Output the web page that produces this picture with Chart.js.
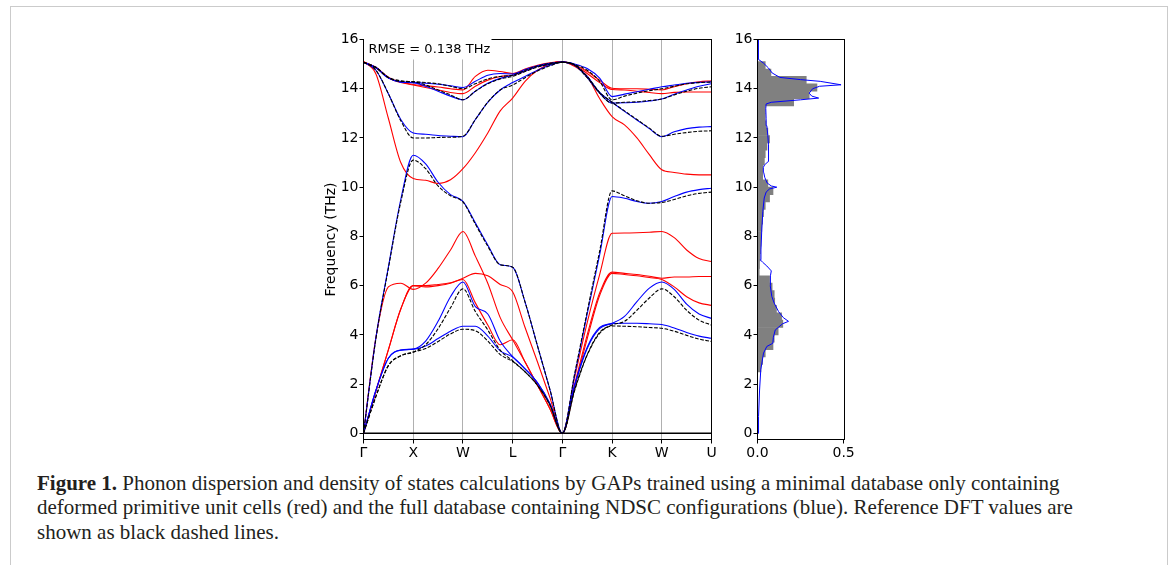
<!DOCTYPE html>
<html>
<head>
<meta charset="utf-8">
<script src="https://cdn.jsdelivr.net/npm/chart.js@4.4.1/dist/chart.umd.min.js"></script>
<style>
  html, body { margin: 0; padding: 0; background: #fff; width: 1170px; height: 565px; overflow: hidden; }
  #frame { position: absolute; left: 10px; top: 6px; width: 1158px; height: 640px; box-sizing: border-box; border: 1.5px solid #cbcbcb; }
  #band { position: absolute; left: 300px; top: 25px; }
  #dos { position: absolute; left: 690px; top: 25px; }
  #caption { position: absolute; left: 37px; top: 470.5px; font: 21px/24.5px 'Liberation Serif', 'Times New Roman', serif; color: #231f20; white-space: nowrap; }
</style>
</head>
<body>
<div id="frame"></div>
<canvas id="band" width="420" height="445"></canvas>
<canvas id="dos" width="180" height="445"></canvas>
<div id="caption"><b>Figure 1.</b> Phonon dispersion and density of states calculations by GAPs trained using a minimal database only containing<br>deformed primitive unit cells (red) and the full database containing NDSC configurations (blue). Reference DFT values are<br>shown as black dashed lines.</div>
<script>
// path coordinate (one unit per high-symmetry segment)
const qPath = [0, 0.25, 0.5, 0.75, 1, 1.25, 1.5, 1.75, 2, 2.25, 2.5, 2.75, 3, 3.25, 3.5, 3.75, 4,
               4.25, 4.5, 4.75, 5, 5.25, 5.5, 5.75, 6, 6.25, 6.5, 6.75, 7];
const kPos = [0, 1, 2, 3, 4, 5, 6, 7];
const kLabels = ['Γ', 'X', 'W', 'L', 'Γ', 'K', 'W', 'U'];
const freqTicks = [0, 2, 4, 6, 8, 10, 12, 14, 16];
const dosTicks = [0, 0.5];

// reference DFT bands (THz)
const dft1 = [0, 1.5, 2.75, 3.15, 3.3, 3.45, 3.73, 4.04, 4.23, 4.17, 3.75, 3.2, 2.92, 2.5, 1.95, 1.15, 0,
              1.76, 3.18, 4.06, 4.36, 4.35, 4.33, 4.3, 4.27, 4.15, 3.98, 3.83, 3.73];
const dft2 = [0, 1.5, 2.75, 3.15, 3.3, 3.6, 4.25, 5.1, 5.87, 4.95, 4.2, 3.38, 2.95, 2.5, 1.95, 1.15, 0,
              1.8, 3.2, 4.1, 4.4, 4.55, 5.0, 5.5, 5.87, 5.55, 5.0, 4.6, 4.4];
const dft3 = [0, 3.85, 6.7, 9.4, 11.1, 10.75, 10.05, 9.65, 9.4, 8.5, 7.6, 6.85, 6.75, 5.33, 3.55, 1.78, 0,
              2.45, 4.95, 7.4, 9.85, 9.65, 9.45, 9.35, 9.38, 9.5, 9.65, 9.75, 9.8];
const dft4 = [15.08, 14.75, 13.8, 12.7, 12.0, 12.0, 12.02, 12.03, 12.07, 12.75, 13.45, 13.95, 14.15, 14.45, 14.72, 14.93, 15.08,
              14.97, 14.5, 13.85, 13.45, 13.1, 12.75, 12.4, 12.07, 12.15, 12.22, 12.27, 12.29];
const dft5 = [15.08, 14.85, 14.45, 14.3, 14.28, 14.15, 13.95, 13.75, 13.55, 13.9, 14.2, 14.4, 14.5, 14.7, 14.88, 15.0, 15.08,
              14.95, 14.45, 13.82, 13.42, 13.45, 13.47, 13.52, 13.58, 13.75, 13.9, 14.02, 14.08];
const dft6 = [15.08, 14.87, 14.47, 14.32, 14.29, 14.25, 14.2, 14.1, 14.0, 14.2, 14.4, 14.5, 14.55, 14.75, 14.92, 15.03, 15.08,
              14.98, 14.75, 14.3, 13.55, 13.7, 13.82, 13.92, 14.0, 14.1, 14.2, 14.25, 14.27];

// GAP, full database (blue)
const full1 = [0, 1.75, 3.05, 3.38, 3.42, 3.55, 3.85, 4.15, 4.35, 4.35, 3.95, 3.35, 3.1, 2.62, 2.05, 1.2, 0,
               1.95, 3.45, 4.25, 4.45, 4.47, 4.47, 4.45, 4.42, 4.28, 4.1, 3.95, 3.86];
const full2 = [0, 1.75, 3.05, 3.38, 3.42, 3.75, 4.55, 5.55, 6.15, 5.15, 4.85, 3.75, 3.12, 2.62, 2.05, 1.2, 0,
               2.0, 3.5, 4.3, 4.47, 4.75, 5.35, 5.9, 6.15, 5.85, 5.25, 4.85, 4.67];
const full3 = [0, 3.9, 6.75, 9.5, 11.3, 10.95, 10.2, 9.7, 9.42, 8.55, 7.65, 6.85, 6.75, 5.33, 3.55, 1.78, 0,
               2.4, 4.85, 7.25, 9.62, 9.55, 9.42, 9.35, 9.42, 9.62, 9.8, 9.9, 9.96];
const full4 = [15.08, 14.75, 13.8, 12.75, 12.2, 12.15, 12.1, 12.07, 12.05, 12.75, 13.45, 13.95, 14.25, 14.5, 14.75, 14.95, 15.08,
               14.97, 14.5, 13.85, 13.45, 13.08, 12.73, 12.38, 12.05, 12.25, 12.38, 12.44, 12.46];
const full5 = [15.08, 14.85, 14.43, 14.27, 14.25, 14.1, 13.9, 13.7, 13.55, 13.9, 14.22, 14.42, 14.55, 14.72, 14.9, 15.0, 15.08,
               14.95, 14.45, 13.82, 13.42, 13.43, 13.45, 13.5, 13.58, 13.78, 13.95, 14.1, 14.2];
const full6 = [15.08, 14.87, 14.45, 14.28, 14.25, 14.22, 14.18, 14.12, 14.05, 14.3, 14.55, 14.62, 14.6, 14.78, 14.93, 15.03, 15.08,
               15.0, 14.82, 14.43, 13.68, 13.78, 13.88, 13.98, 14.08, 14.15, 14.22, 14.26, 14.28];

// GAP, minimal database (red)
const mini1 = [0, 1.72, 3.39, 5.05, 6.0, 6.0, 6.05, 6.12, 6.25, 5.3, 4.4, 3.6, 3.8, 2.9, 1.95, 1.0, 0,
               1.9, 3.85, 5.6, 6.5, 6.45, 6.4, 6.33, 6.25, 5.95, 5.55, 5.3, 5.2];
const mini2 = [0, 1.72, 3.39, 5.05, 6.0, 5.95, 6.0, 6.1, 6.3, 6.5, 6.4, 6.05, 5.75, 4.3, 2.9, 1.45, 0,
               2.0, 4.0, 5.7, 6.55, 6.5, 6.45, 6.38, 6.3, 6.35, 6.35, 6.37, 6.37];
const mini3 = [0, 3.9, 5.95, 6.1, 5.85, 6.1, 6.7, 7.45, 8.2, 7.2, 6.1, 4.7, 3.8, 2.9, 1.95, 1.0, 0,
               2.3, 4.5, 6.45, 8.13, 8.14, 8.15, 8.17, 8.2, 7.95, 7.45, 7.1, 6.98];
const mini4 = [15.1, 14.6, 12.8, 11.0, 10.35, 10.28, 10.15, 10.3, 10.75, 11.4, 12.2, 13.1, 13.62, 14.3, 14.75, 15.0, 15.1,
               14.9, 14.5, 13.6, 12.87, 12.53, 12.0, 11.32, 10.71, 10.6, 10.53, 10.5, 10.5];
const mini5 = [15.1, 14.85, 14.45, 14.25, 14.15, 14.05, 13.95, 13.85, 13.8, 14.1, 14.35, 14.5, 14.55, 14.72, 14.9, 15.02, 15.1,
               14.93, 14.62, 14.25, 13.97, 13.95, 13.9, 13.85, 13.8, 13.85, 13.87, 13.87, 13.87];
const mini6 = [15.1, 14.87, 14.47, 14.27, 14.17, 14.12, 14.07, 14.0, 13.95, 14.5, 14.75, 14.7, 14.62, 14.8, 14.95, 15.05, 15.1,
               14.95, 14.7, 14.35, 14.02, 14.0, 14.0, 13.98, 13.95, 14.08, 14.2, 14.28, 14.32];

const zeroLineX = [0, 7];
const zeroLineY = [0, 0];

// DFT density of states histogram (bin centres, THz) and GAP DOS curve
const dosBinFreq = [2.65, 2.95, 3.25, 3.55, 3.85, 4.15, 4.45, 4.75, 5.05, 5.35, 5.65, 5.95, 6.25, 6.55, 6.85, 7.15,
                    7.45, 7.75, 8.05, 8.35, 8.65, 8.95, 9.25, 9.55, 9.85, 10.15, 10.45, 10.75, 11.05, 11.35, 11.65,
                    11.95, 12.25, 12.55, 12.85, 13.15, 13.45, 13.75, 14.05, 14.35, 14.65, 14.95];
const dosBinVal = [0.02, 0.03, 0.045, 0.09, 0.097, 0.12, 0.147, 0.14, 0.11, 0.1, 0.097, 0.085, 0.07, 0.01, 0.012, 0.015,
                   0.018, 0.02, 0.022, 0.025, 0.03, 0.035, 0.045, 0.07, 0.09, 0.06, 0.03, 0.03, 0.04, 0.045, 0.055,
                   0.07, 0.06, 0.05, 0.045, 0.045, 0.21, 0.3, 0.345, 0.283, 0.078, 0.045];
const dosCurveFreq = [0, 0.68, 1.76, 2.58, 3.26, 3.53, 3.66, 3.9, 4.2, 4.3, 4.45, 4.55, 4.7, 4.95, 5.29, 5.56, 6.0, 6.4,
                      6.6, 6.8, 6.95, 7.05, 7.45, 8.3, 9.02, 9.56, 9.8, 9.93, 10.0, 10.05, 10.17, 10.4, 10.6, 10.8, 10.9,
                      11.04, 11.3, 11.72, 12.1, 12.5, 12.8, 13.2, 13.38, 13.45, 13.55, 13.62, 13.7, 13.82, 14.0, 14.1,
                      14.16, 14.3, 14.37, 14.46, 14.64, 14.84, 15.04, 15.18, 15.5, 16.0];
const dosCurveVal = [0.003, 0.006, 0.012, 0.019, 0.035, 0.054, 0.089, 0.092, 0.103, 0.12, 0.145, 0.18, 0.15, 0.122, 0.097,
                     0.083, 0.074, 0.075, 0.08, 0.054, 0.03, 0.016, 0.02, 0.025, 0.031, 0.039, 0.05, 0.07, 0.112, 0.08,
                     0.056, 0.042, 0.036, 0.034, 0.04, 0.062, 0.064, 0.064, 0.06, 0.054, 0.05, 0.048, 0.05, 0.08, 0.25,
                     0.355, 0.315, 0.3, 0.32, 0.36, 0.485, 0.364, 0.25, 0.13, 0.085, 0.064, 0.035, 0.008, 0.006, 0.005];

Chart.defaults.font.family = "'DejaVu Sans', sans-serif";
Chart.defaults.font.size = 14;
Chart.defaults.color = '#000';

// full box around the plot area, plus the optional white label box in the corner
const axesFrame = {
    id: 'axesFrame',
    afterDatasetsDraw(chart, args, opts) {
        const { ctx, chartArea: a } = chart;
        ctx.save();
        ctx.strokeStyle = '#000';
        ctx.lineWidth = 1;
        ctx.strokeRect(a.left, a.top, a.right - a.left, a.bottom - a.top);
        if (opts.label) {
            ctx.fillStyle = '#fff';
            ctx.fillRect(a.left + 0.5, a.top - 12, 127.5, 32);
            ctx.fillStyle = '#000';
            ctx.font = "13px 'DejaVu Sans'";
            ctx.textBaseline = 'alphabetic';
            ctx.fillText(opts.label, a.left + 5, a.top + 13.8);
        }
        ctx.restore();
    }
};

function bandSets(bands, color, dash) {
    return bands.map(b => ({
        data: qPath.map((q, i) => ({ x: q, y: b[i] })),
        borderColor: color,
        borderWidth: 1.1,
        borderDash: dash,
        pointRadius: 0,
        fill: false,
        cubicInterpolationMode: 'monotone',
    }));
}

const yAxis = (title, width) => ({
    type: 'linear',
    min: -0.25,
    max: 16,
    afterBuildTicks: s => { s.ticks = freqTicks.map(v => ({ value: v })); },
    afterFit: s => { s.width = width; },
    grid: { drawOnChartArea: false, tickLength: 4, tickColor: '#000' },
    border: { display: false },
    ticks: { padding: 1, color: '#000' },
    title: { display: !!title, text: title, color: '#000', font: { size: 14 }, padding: { top: 23, bottom: 0 } },
});

new Chart(document.getElementById('band'), {
    type: 'line',
    data: {
        datasets: [
            ...bandSets([dft1, dft2, dft3, dft4, dft5, dft6], '#000000', [3.7, 1.6]),
            ...bandSets([full1, full2, full3, full4, full5, full6], '#0000ff', []),
            ...bandSets([mini1, mini2, mini3, mini4, mini5, mini6], '#ff0000', []),
            {
                data: zeroLineX.map((x, i) => ({ x, y: zeroLineY[i] })),
                borderColor: '#000', borderWidth: 1.5, pointRadius: 0,
            },
        ],
    },
    options: {
        responsive: false,
        devicePixelRatio: 1,
        animation: false,
        events: [],
        layout: { padding: { left: 0, top: 14.5, right: 8.5, bottom: 0 } },
        plugins: { legend: { display: false }, tooltip: { enabled: false }, axesFrame: { label: 'RMSE = 0.138 THz' } },
        scales: {
            x: {
                type: 'linear',
                min: 0,
                max: 7,
                afterBuildTicks: s => { s.ticks = kPos.map(v => ({ value: v })); },
                afterFit: s => { s.height = 30.5; },
                grid: { color: '#b0b0b0', lineWidth: 1, tickLength: 4, tickColor: '#000' },
                border: { display: false },
                ticks: { padding: 1, color: '#000', autoSkip: false, maxRotation: 0, callback: (v, i) => kLabels[i] },
            },
            y: yAxis('Frequency (THz)', 63.5),
        },
    },
    plugins: [axesFrame],
});

new Chart(document.getElementById('dos'), {
    type: 'bar',
    data: {
        datasets: [
            {
                type: 'line',
                data: dosCurveFreq.map((f, i) => ({ x: dosCurveVal[i], y: f })),
                borderColor: '#0000ff', borderWidth: 1, pointRadius: 0, tension: 0, order: 0,
            },
            {
                type: 'bar',
                data: dosBinFreq.map((f, i) => ({ x: dosBinVal[i], y: f })),
                backgroundColor: '#808080', borderWidth: 0,
                barPercentage: 1, categoryPercentage: 1, order: 1,
            },
        ],
    },
    options: {
        indexAxis: 'y',
        responsive: false,
        devicePixelRatio: 1,
        animation: false,
        events: [],
        layout: { padding: { left: 0, top: 14.5, right: 25.5, bottom: 0 } },
        plugins: { legend: { display: false }, tooltip: { enabled: false }, axesFrame: {} },
        scales: {
            x: {
                type: 'linear',
                min: 0,
                max: 0.505,
                afterBuildTicks: s => { s.ticks = dosTicks.map(v => ({ value: v })); },
                afterFit: s => { s.height = 30.5; },
                grid: { drawOnChartArea: false, tickLength: 4, tickColor: '#000' },
                border: { display: false },
                ticks: { padding: 1, color: '#000', maxRotation: 0, callback: v => v.toFixed(1) },
            },
            y: Object.assign(yAxis('', 67.5), { offset: false, grid: { offset: false, drawOnChartArea: false, tickLength: 4, tickColor: '#000' } }),
        },
    },
    plugins: [axesFrame],
});
</script>
</body>
</html>
